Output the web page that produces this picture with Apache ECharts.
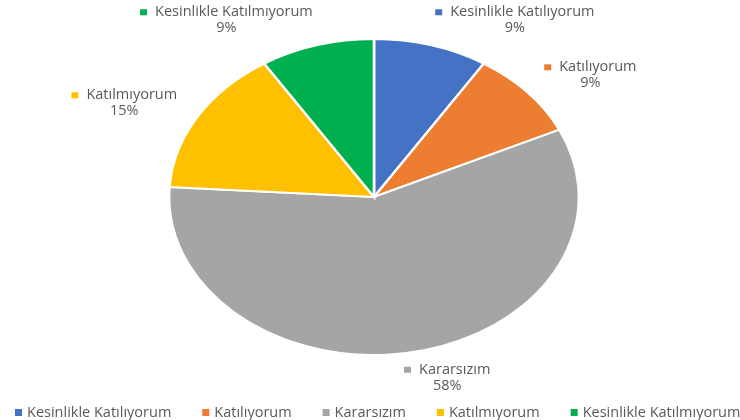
<!DOCTYPE html>
<html><head><meta charset="utf-8">
<script src="https://cdn.jsdelivr.net/npm/echarts@6/dist/echarts.min.js"></script>
<style>html,body{margin:0;padding:0;background:#fff}#c{width:740px;height:420px}</style>
</head><body><div id="c"></div>
<script>
const categories = ['Kesinlikle Katılıyorum', 'Katılıyorum', 'Kararsızım', 'Katılmıyorum', 'Kesinlikle Katılmıyorum'];
const values = [9, 9, 58, 15, 9];
const colors = ['#4472C4', '#ED7D31', '#A5A5A5', '#FFC000', '#00B050'];

const FONT_FAMILY = '"Open Sans", sans-serif';
const FONT_SIZE = 14.5;
const TEXT_COLOR = '#595959';

const total = values.reduce((a, b) => a + b, 0);
const starts = [];
let acc = 0;
values.forEach(v => { starts.push(acc); acc += v; });

const measureCtx = document.createElement('canvas').getContext('2d');
function textWidth(s) {
  measureCtx.font = FONT_SIZE + 'px ' + FONT_FAMILY;
  return measureCtx.measureText(s).width;
}

function renderSlice(idx) {
  return function (params, api) {
    const W = api.getWidth(), H = api.getHeight();
    const cx = W * 0.5054, cy = H * 0.469;
    const ry = 158, sx = 1.297;
    const v = api.value(0);
    const a0 = starts[idx] / total * 2 * Math.PI;
    const a1 = (starts[idx] + v) / total * 2 * Math.PI;
    const color = api.visual('color');
    const mid = (a0 + a1) / 2;
    const s = Math.sin(mid), c = Math.cos(mid);
    const d = 10;
    const px = cx + (sx * ry + d) * s + 16 * s * Math.abs(s);
    const py = cy - (ry + d) * c;
    const name = categories[idx];
    const pct = Math.round(v / total * 100) + '%';
    const w = Math.max(7 + 8 + textWidth(name), textWidth(pct));
    const h = 32;
    const fx = Math.min(1, Math.max(0, 0.5 - 2 * s));
    const left = px - fx * w;
    const top = py - h * (1 + c) / 2;
    return {
      type: 'group',
      children: [
        {
          type: 'sector',
          shape: { cx: cx, cy: cy, r: ry, r0: 0, startAngle: a0 - Math.PI / 2, endAngle: a1 - Math.PI / 2, clockwise: true },
          originX: cx, originY: cy, scaleX: sx, scaleY: 1,
          style: { fill: color, stroke: '#ffffff', lineWidth: 2, strokeNoScale: true }
        },
        {
          type: 'text',
          x: left + w / 2, y: top,
          style: {
            text: '{k|}{n|' + name + '}\n{p|' + pct + '}',
            align: 'center', verticalAlign: 'top',
            fill: TEXT_COLOR, fontSize: FONT_SIZE, fontFamily: FONT_FAMILY, lineHeight: 16,
            rich: {
              k: { width: 7, height: 6, backgroundColor: color, verticalAlign: 'middle' },
              n: { padding: [0, 0, 0, 8], fill: TEXT_COLOR, fontSize: FONT_SIZE, fontFamily: FONT_FAMILY, lineHeight: 16 },
              p: { fill: TEXT_COLOR, fontSize: FONT_SIZE, fontFamily: FONT_FAMILY, lineHeight: 16 }
            }
          }
        }
      ]
    };
  };
}

const chart = echarts.init(document.getElementById('c'), null, { renderer: 'canvas' });
chart.setOption({
  animation: false,
  backgroundColor: '#ffffff',
  legend: {
    data: categories,
    left: 10, top: 400, width: 1200,
    icon: 'rect', itemWidth: 7, itemHeight: 7, itemGap: 31,
    selectedMode: false,
    textStyle: { fontSize: FONT_SIZE, fontFamily: FONT_FAMILY, color: TEXT_COLOR }
  },
  series: categories.map((name, i) => ({
    type: 'custom',
    name: name,
    coordinateSystem: 'none',
    silent: true,
    itemStyle: { color: colors[i] },
    data: [[values[i]]],
    renderItem: renderSlice(i)
  }))
});
</script>
</body></html>
